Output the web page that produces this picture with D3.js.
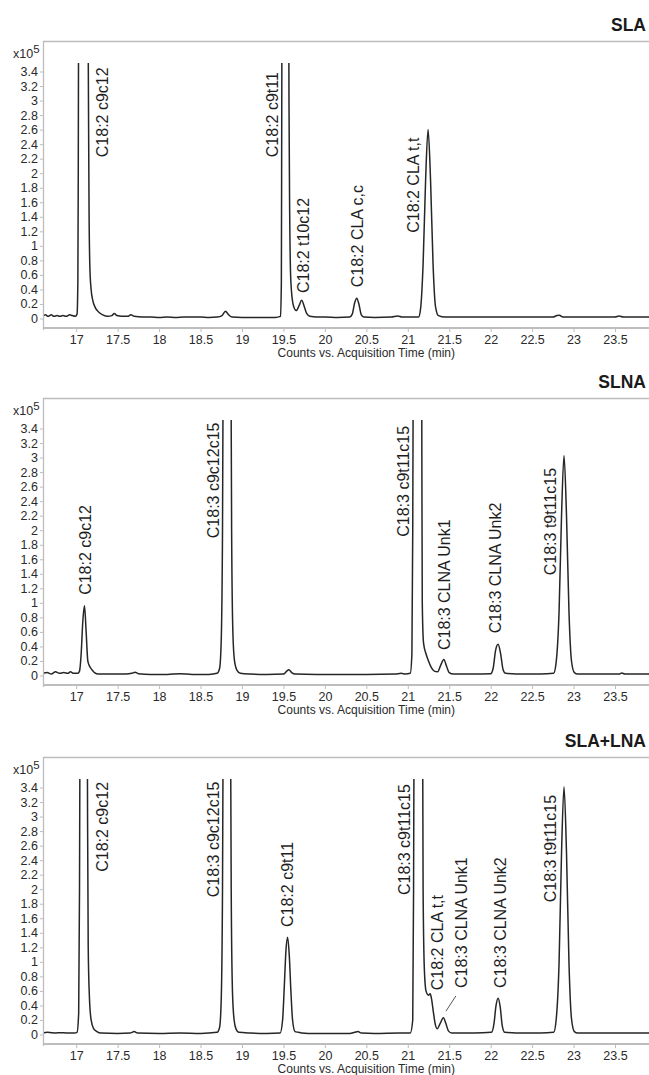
<!DOCTYPE html>
<html><head><meta charset="utf-8">
<script src="https://cdn.jsdelivr.net/npm/d3@7"></script>
<style>
html,body{margin:0;padding:0;background:#fff;}
svg{display:block;font-family:"Liberation Sans",Arial,sans-serif;}
</style></head>
<body>
<svg id="c" width="649" height="1075"></svg>
<script>
// ---------- DATA ----------
const panelTitles = ["SLA", "SLNA", "SLA+LNA"];
const xTicks = [17, 17.5, 18, 18.5, 19, 19.5, 20, 20.5, 21, 21.5, 22, 22.5, 23, 23.5];
const yTicks = [0, 0.2, 0.4, 0.6, 0.8, 1, 1.2, 1.4, 1.6, 1.8, 2, 2.2, 2.4, 2.6, 2.8, 3, 3.2, 3.4];
const xTitle = "Counts vs. Acquisition Time (min)";

// traces: [time (min), counts x10^5]
const slaTrace = [
 [16.60,0.04],[16.63,0.05],[16.66,0.03],[16.70,0.05],[16.73,0.03],[16.77,0.04],[16.80,0.03],[16.84,0.04],
 [16.88,0.03],[16.92,0.05],[16.95,0.04],[16.99,0.03],[17.01,0.06],[17.02,0.5],[17.025,2],[17.03,5],
 [17.05,12],[17.08,15],[17.11,12],[17.14,5],[17.148,3],[17.155,1.5],[17.165,0.7],[17.18,0.4],[17.20,0.25],
 [17.23,0.15],[17.27,0.09],[17.32,0.05],[17.38,0.03],[17.43,0.04],[17.46,0.07],[17.49,0.04],[17.55,0.03],
 [17.62,0.03],[17.66,0.05],[17.70,0.03],[17.80,0.02],[17.90,0.02],[18.00,0.015],[18.10,0.02],[18.20,0.015],
 [18.30,0.02],[18.40,0.02],[18.50,0.02],[18.60,0.015],[18.70,0.02],[18.76,0.04],[18.80,0.1],[18.84,0.05],
 [18.88,0.02],[19.00,0.015],[19.20,0.015],[19.40,0.015],[19.465,0.03],[19.475,0.5],[19.48,3],[19.487,6],
 [19.52,10],[19.56,6],[19.567,3],[19.575,1.5],[19.59,0.5],[19.62,0.18],[19.655,0.11],[19.69,0.18],
 [19.72,0.25],[19.75,0.17],[19.78,0.07],[19.82,0.03],[19.90,0.02],[20.00,0.02],[20.15,0.015],[20.30,0.02],
 [20.33,0.06],[20.36,0.22],[20.385,0.28],[20.41,0.2],[20.44,0.05],[20.47,0.02],[20.60,0.015],[20.80,0.02],
 [20.88,0.035],[20.93,0.02],[21.05,0.02],[21.13,0.02],[21.155,0.14],[21.185,0.75],[21.215,1.9],[21.245,2.6],
 [21.275,1.9],[21.305,0.75],[21.335,0.16],[21.37,0.04],[21.45,0.02],[21.70,0.02],[22.00,0.02],[22.40,0.02],
 [22.75,0.02],[22.80,0.04],[22.83,0.045],[22.87,0.02],[23.20,0.02],[23.50,0.02],[23.55,0.035],[23.60,0.02],
 [23.92,0.02]
];
const slnaTrace = [
 [16.60,0.03],[16.65,0.04],[16.70,0.02],[16.75,0.05],[16.80,0.03],[16.85,0.04],[16.90,0.03],[16.93,0.05],
 [16.97,0.03],[17.02,0.03],[17.04,0.06],[17.06,0.3],[17.08,0.75],[17.10,0.96],[17.12,0.6],[17.14,0.2],
 [17.16,0.13],[17.19,0.08],[17.22,0.04],[17.27,0.02],[17.40,0.02],[17.60,0.02],[17.67,0.03],[17.71,0.045],
 [17.75,0.025],[17.90,0.015],[18.10,0.015],[18.25,0.025],[18.40,0.015],[18.60,0.015],[18.70,0.03],
 [18.73,0.1],[18.75,0.5],[18.765,2],[18.775,5],[18.82,12],[18.865,5],[18.875,2],[18.89,0.6],[18.91,0.2],
 [18.94,0.07],[18.98,0.03],[19.10,0.02],[19.30,0.015],[19.50,0.02],[19.54,0.06],[19.565,0.08],[19.60,0.04],
 [19.64,0.02],[19.90,0.015],[20.20,0.015],[20.50,0.015],[20.85,0.02],[20.92,0.03],[20.97,0.02],[21.03,0.03],
 [21.05,0.3],[21.06,2],[21.07,6],[21.12,15],[21.165,6],[21.17,3],[21.175,1],[21.19,0.45],[21.22,0.3],
 [21.25,0.2],[21.28,0.12],[21.32,0.06],[21.36,0.05],[21.40,0.15],[21.435,0.22],[21.47,0.12],[21.50,0.04],
 [21.55,0.02],[21.80,0.02],[22.00,0.025],[22.03,0.1],[22.06,0.35],[22.09,0.43],[22.12,0.3],[22.15,0.08],
 [22.18,0.03],[22.40,0.02],[22.60,0.02],[22.76,0.03],[22.79,0.18],[22.825,0.87],[22.855,2.2],[22.885,3.03],
 [22.915,2.2],[22.945,0.87],[22.975,0.2],[23.01,0.04],[23.05,0.02],[23.30,0.02],[23.55,0.02],[23.58,0.035],
 [23.62,0.02],[23.92,0.02]
];
const slaLnaTrace = [
 [16.60,0.02],[16.65,0.03],[16.70,0.025],[16.75,0.02],[16.80,0.025],[16.90,0.02],[16.98,0.02],[17.01,0.03],
 [17.03,0.3],[17.04,2],[17.05,6],[17.09,12],[17.13,6],[17.137,3],[17.145,1.2],[17.16,0.5],[17.18,0.2],
 [17.21,0.08],[17.25,0.04],[17.30,0.02],[17.50,0.015],[17.65,0.02],[17.70,0.04],[17.74,0.02],[18.00,0.015],
 [18.25,0.02],[18.50,0.015],[18.70,0.03],[18.73,0.1],[18.75,0.5],[18.765,2],[18.775,5],[18.82,12],
 [18.86,5],[18.87,2],[18.885,0.6],[18.905,0.2],[18.93,0.07],[18.96,0.03],[19.10,0.02],[19.30,0.015],
 [19.46,0.02],[19.49,0.2],[19.51,0.65],[19.53,1.15],[19.55,1.34],[19.57,1.1],[19.59,0.6],[19.61,0.2],
 [19.64,0.04],[19.68,0.03],[19.72,0.02],[19.80,0.015],[20.00,0.015],[20.30,0.015],[20.36,0.03],[20.40,0.04],
 [20.44,0.02],[20.60,0.015],[20.90,0.02],[21.03,0.02],[21.06,0.2],[21.07,2],[21.08,6],[21.13,15],
 [21.175,6],[21.185,2],[21.20,0.9],[21.22,0.6],[21.25,0.54],[21.27,0.56],[21.285,0.5],[21.31,0.3],
 [21.33,0.15],[21.355,0.08],[21.39,0.15],[21.43,0.23],[21.46,0.15],[21.49,0.05],[21.53,0.02],[21.80,0.02],
 [22.01,0.03],[22.04,0.15],[22.065,0.4],[22.09,0.5],[22.115,0.38],[22.14,0.12],[22.17,0.03],[22.40,0.02],
 [22.60,0.02],[22.76,0.03],[22.79,0.2],[22.825,0.98],[22.855,2.5],[22.885,3.41],[22.915,2.5],[22.945,0.98],
 [22.975,0.22],[23.01,0.04],[23.05,0.02],[23.50,0.02],[23.92,0.02]
];

// peak labels: [text, time, value at text bottom]
const slaLabels = [
 ["C18:2 c9c12", 17.31, 2.22],
 ["C18:2 c9t11", 19.36, 2.22],
 ["C18:2 t10c12", 19.74, 0.35],
 ["C18:2 CLA c,c", 20.39, 0.43],
 ["C18:2 CLA t,t", 21.06, 1.18]
];
const slnaLabels = [
 ["C18:2 c9c12", 17.11, 1.11],
 ["C18:3 c9c12c15", 18.65, 1.89],
 ["C18:3 c9t11c15", 20.94, 1.91],
 ["C18:3 CLNA Unk1", 21.44, 0.35],
 ["C18:3 CLNA Unk2", 22.06, 0.58],
 ["C18:3 t9t11c15", 22.72, 1.38]
];
const slaLnaLabels = [
 ["C18:2 c9c12", 17.31, 2.24],
 ["C18:3 c9c12c15", 18.65, 1.89],
 ["C18:2 c9t11", 19.55, 1.48],
 ["C18:3 c9t11c15", 20.96, 1.92],
 ["C18:2 CLA t,t", 21.35, 0.61],
 ["C18:3 CLNA Unk1", 21.65, 0.64],
 ["C18:3 CLNA Unk2", 22.11, 0.64],
 ["C18:3 t9t11c15", 22.72, 1.82]
];
// leader lines: [[t1,v1],[t2,v2]]
const slaLnaLeaders = [[[21.46,0.32],[21.58,0.53]]];

const panels = [
 {title: panelTitles[0], trace: slaTrace, labels: slaLabels, leaders: []},
 {title: panelTitles[1], trace: slnaTrace, labels: slnaLabels, leaders: []},
 {title: panelTitles[2], trace: slaLnaTrace, labels: slaLnaLabels, leaders: slaLnaLeaders}
];

// ---------- LAYOUT ----------
const panelTops = [41, 398, 757];
const left = 43, right = 649;
const grey = "#bdbdbd";
const FONT = "Liberation Sans, Arial, sans-serif";

const svg = d3.select("#c");

// x scale: 17 -> 76.2px, 23.5 -> 615px
const x = d3.scaleLinear().domain([17, 23.5]).range([76.2, 615]);

panels.forEach((p, i) => {
  const top = panelTops[i];
  const zeroY = top + 277.5;
  const y = d3.scaleLinear().domain([0, 3.4]).range([zeroY, top + 30.5]);
  const plotTop = top + 22, axisY = top + 287;
  const g = svg.append("g");

  // title
  g.append("text").attr("x", 646).attr("y", top - 10)
    .attr("text-anchor", "end").attr("font-size", 17.5).attr("font-weight", "bold")
    .attr("fill", "#1a1a1a").text(p.title);

  // frame (top + left)
  g.append("line").attr("x1", left).attr("x2", right).attr("y1", top + 0.5).attr("y2", top + 0.5)
    .attr("stroke", grey).attr("stroke-width", 1.3);
  g.append("line").attr("x1", left + 0.5).attr("x2", left + 0.5).attr("y1", top).attr("y2", axisY + 2)
    .attr("stroke", grey).attr("stroke-width", 1.3);

  // x axis
  const xa = g.append("g").attr("transform", `translate(0,${axisY})`)
    .call(d3.axisBottom(x).tickValues(xTicks).tickSize(4).tickPadding(3)
      .tickFormat(d => d3.format("~g")(d)));
  xa.select(".domain").remove();
  xa.selectAll(".tick line").attr("stroke", grey);
  xa.selectAll(".tick text").attr("font-size", 12.5).attr("fill", "#2a2a2a").attr("font-family", FONT);
  g.append("line").attr("x1", left).attr("x2", right).attr("y1", axisY).attr("y2", axisY)
    .attr("stroke", grey).attr("stroke-width", 2.2);

  // x title
  g.append("text").attr("x", x(20.5)).attr("y", axisY + 28.5).attr("text-anchor", "middle")
    .attr("font-size", 12).attr("fill", "#2a2a2a").text(xTitle);

  // y axis
  const ya = g.append("g").attr("transform", `translate(${left},0)`)
    .call(d3.axisLeft(y).tickValues(yTicks).tickSize(3).tickPadding(2)
      .tickFormat(d => d3.format("~g")(d)));
  ya.select(".domain").remove();
  ya.selectAll(".tick line").attr("stroke", grey);
  ya.selectAll(".tick text").attr("font-size", 12.5).attr("fill", "#2a2a2a").attr("font-family", FONT);

  // x10^5
  const ex = g.append("text").attr("x", 13).attr("y", top + 17).attr("font-size", 12.5).attr("fill", "#2a2a2a");
  ex.append("tspan").text("x10");
  ex.append("tspan").attr("dy", -5).attr("font-size", 11.5).text("5");

  // clip
  const cid = "clip" + i;
  svg.append("clipPath").attr("id", cid).append("rect")
    .attr("x", left + 1).attr("y", plotTop).attr("width", right - left).attr("height", axisY - plotTop - 1);

  const line = d3.line().x(d => x(d[0])).y(d => y(d[1])).curve(d3.curveMonotoneX);
  g.append("path").datum(p.trace).attr("clip-path", `url(#${cid})`)
    .attr("d", line).attr("fill", "none").attr("stroke", "#262626").attr("stroke-width", 1.5)
    .attr("stroke-linejoin", "round");

  // labels
  p.labels.forEach(l => {
    g.append("text")
      .attr("transform", `translate(${x(l[1])},${y(l[2])}) rotate(-90)`)
      .attr("dy", "0.36em").attr("font-size", 16).attr("fill", "#1e1e1e").text(l[0]);
  });
  p.leaders.forEach(L => {
    g.append("line").attr("x1", x(L[0][0])).attr("y1", y(L[0][1]))
      .attr("x2", x(L[1][0])).attr("y2", y(L[1][1]))
      .attr("stroke", "#444").attr("stroke-width", 0.9);
  });
});
</script>
</body></html>
